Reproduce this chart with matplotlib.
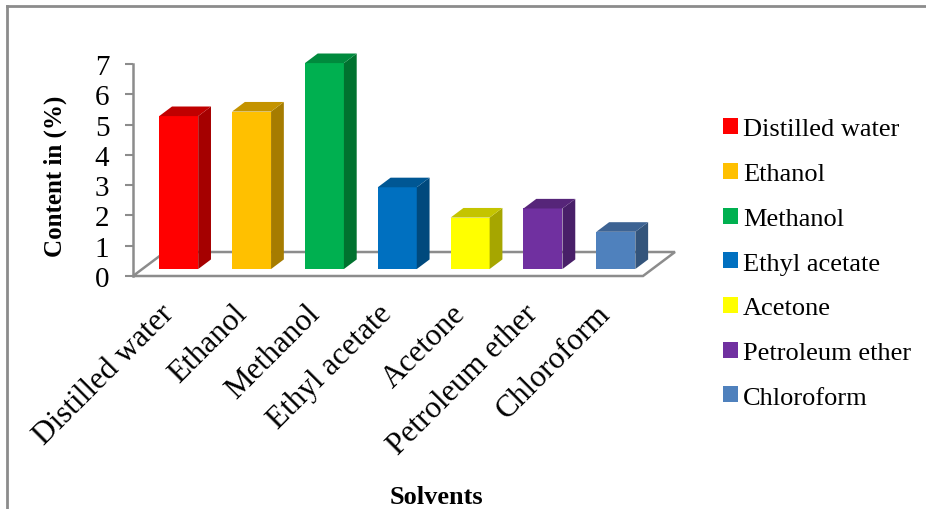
import matplotlib
matplotlib.use('Agg')
import matplotlib.pyplot as plt
from matplotlib.patches import Rectangle, Polygon, Patch
from matplotlib.lines import Line2D

plt.rcParams['font.family'] = ['Liberation Serif', 'DejaVu Serif']

solvents = ['Distilled water', 'Ethanol', 'Methanol', 'Ethyl acetate',
            'Acetone', 'Petroleum ether', 'Chloroform']
content = [5.05, 5.2, 6.8, 2.7, 1.7, 2.0, 1.23]
front_colors = ['#FF0000', '#FFC000', '#00B050', '#0070C0',
                '#FFFF00', '#7030A0', '#4F81BD']
side_colors = ['#A50000', '#A67C00', '#00722F', '#00497D',
               '#A6A600', '#481F68', '#33547B']
top_colors = ['#C00000', '#C49300', '#008A3D', '#005794',
              '#C4C400', '#562579', '#3D6393']
y_ticks = list(range(8))

W, H = 926, 510
fig = plt.figure(figsize=(W / 100, H / 100), dpi=100)

# axes box: value 0 at y=277 px, value 7 at y=65 px, x from 133 to 643 px
ax = fig.add_axes([133 / W, 1 - 277 / H, 510 / W, 212 / H])
ax.set_xlim(-0.5, len(solvents) - 0.5)
ax.set_ylim(0, 7)

# oblique depth of the floor, in data units
DX, DY = 32 / 72.9, 24 / 30.3
bar_w = 0.535
front_off, bar_depth = 0.29, 0.40

gray = '#8C8C8C'
x_lo, x_hi = ax.get_xlim()
floor = Polygon([(x_lo, 0), (x_hi, 0), (x_hi + DX, DY), (x_lo + DX, DY)],
                closed=True, facecolor='white', edgecolor=gray, lw=1.8,
                clip_on=False, zorder=1)
ax.add_patch(floor)

for i, v in enumerate(content):
    x0 = i - bar_w / 2 + front_off * DX
    y0 = front_off * DY
    dx, dy = bar_depth * DX, bar_depth * DY
    ax.add_patch(Rectangle((x0, y0), bar_w, v, facecolor=front_colors[i],
                           edgecolor='none', clip_on=False, zorder=3))
    ax.add_patch(Polygon([(x0 + bar_w, y0), (x0 + bar_w + dx, y0 + dy),
                          (x0 + bar_w + dx, y0 + dy + v), (x0 + bar_w, y0 + v)],
                         closed=True, facecolor=side_colors[i], edgecolor='none',
                         clip_on=False, zorder=3))
    ax.add_patch(Polygon([(x0, y0 + v), (x0 + bar_w, y0 + v),
                          (x0 + bar_w + dx, y0 + v + dy), (x0 + dx, y0 + v + dy)],
                         closed=True, facecolor=top_colors[i], edgecolor='none',
                         clip_on=False, zorder=3))

for side in ['top', 'right', 'bottom']:
    ax.spines[side].set_visible(False)
ax.spines['left'].set_color(gray)
ax.spines['left'].set_linewidth(1.8)
ax.set_facecolor('none')

ax.set_yticks(y_ticks)
ax.tick_params(axis='y', colors=gray, length=6, width=1.5, pad=11,
               labelsize=21, labelcolor='black')
ax.set_xticks(range(len(solvents)))
ax.set_xticklabels(solvents, rotation=45, ha='right', va='center',
                   rotation_mode='anchor', fontsize=22.5)
ax.tick_params(axis='x', length=0, pad=24)

fig.text(55 / W, 1 - 176 / H, 'Content in (%)', rotation=90, fontsize=18,
         fontweight='bold', ha='center', va='center')
fig.text(436 / W, 1 - 498 / H, 'Solvents', fontsize=19, fontweight='bold',
         ha='center', va='center')

handles = [Patch(facecolor=c, edgecolor='none') for c in front_colors]
fig.legend(handles, solvents, loc='upper left',
           bbox_to_anchor=(710 / W, 1 - 106 / H), frameon=False, fontsize=19,
           handlelength=0.55, handleheight=0.55, handletextpad=0.2,
           labelspacing=0.85, borderpad=0)

# chart frame, top and left edges
fig.add_artist(Line2D([7 / W, 7 / W], [0, 1 - 7 / H], color='#8C8C8C', lw=2))
fig.add_artist(Line2D([7 / W, 1], [1 - 7 / H, 1 - 7 / H], color='#8C8C8C', lw=2))

fig.savefig('out.png', dpi=100)
